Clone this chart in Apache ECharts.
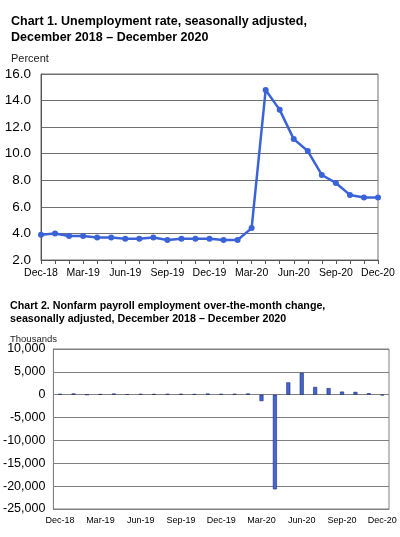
<!DOCTYPE html>
<html>
<head>
<meta charset="utf-8">
<script src="https://cdn.jsdelivr.net/npm/echarts@6/dist/echarts.min.js"></script>
<style>
html,body{margin:0;padding:0;background:#fff;}
#c{width:400px;height:537px;}
</style>
</head>
<body>
<div id="c"></div>
<script>
var months = ['Dec-18','Jan-19','Feb-19','Mar-19','Apr-19','May-19','Jun-19','Jul-19','Aug-19','Sep-19','Oct-19','Nov-19','Dec-19','Jan-20','Feb-20','Mar-20','Apr-20','May-20','Jun-20','Jul-20','Aug-20','Sep-20','Oct-20','Nov-20','Dec-20'];
var unemploymentRate = [3.9,4.0,3.8,3.8,3.7,3.7,3.6,3.6,3.7,3.5,3.6,3.6,3.6,3.5,3.5,4.4,14.8,13.3,11.1,10.2,8.4,7.8,6.9,6.7,6.7];
var payrollChange = [200,270,10,150,250,90,180,160,200,200,150,250,180,210,260,-1400,-20700,2700,4800,1700,1450,680,620,330,-140];
var rateTicks = {min:2, max:16, interval:2};
var payrollTicks = {min:-25000, max:10000, interval:5000};

var FONT = '"Liberation Sans", Arial, sans-serif';
var chart = echarts.init(document.getElementById('c'), null, {renderer:'canvas'});
function fmtNum(v){ return v.toLocaleString('en-US'); }
chart.setOption({
  animation:false,
  backgroundColor:'#fff',
  textStyle:{fontFamily:FONT},
  title:[
    {text:'Chart 1. Unemployment rate, seasonally adjusted,\nDecember 2018 \u2013 December 2020', left:6, top:9,
     textStyle:{fontFamily:FONT, fontSize:12.5, fontWeight:'bold', color:'#000', lineHeight:16}},
    {text:'Percent', left:6, top:48, textStyle:{fontFamily:FONT, fontSize:11, fontWeight:'normal', color:'#222'}},
    {text:'Chart 2. Nonfarm payroll employment over-the-month change,\nseasonally adjusted, December 2018 \u2013 December 2020', left:5, top:295,
     textStyle:{fontFamily:FONT, fontSize:10.7, fontWeight:'bold', color:'#000', lineHeight:13}},
    {text:'Thousands', left:5, top:329, textStyle:{fontFamily:FONT, fontSize:9.5, fontWeight:'normal', color:'#222'}}
  ],
  grid:[
    {left:41, right:22, top:74, bottom:277, show:true, borderColor:'#707070', borderWidth:1, backgroundColor:'#fff'},
    {left:51, right:11, top:349, bottom:28, show:true, borderColor:'#808080', borderWidth:1, backgroundColor:'#fff'}
  ],
  xAxis:[
    {type:'category', gridIndex:0, data:months, boundaryGap:false,
     axisLine:{lineStyle:{color:'#555', width:1}},
     axisTick:{show:true, interval:0, length:4, lineStyle:{color:'#555'}},
     axisLabel:{interval:2, color:'#000', fontSize:10.5, fontFamily:FONT, margin:8},
     splitLine:{show:false}},
    {type:'category', gridIndex:1, data:months, boundaryGap:true,
     axisLine:{onZero:false, lineStyle:{color:'#808080', width:1}},
     axisTick:{show:false},
     axisLabel:{interval:2, color:'#000', fontSize:9, fontFamily:FONT, margin:7},
     splitLine:{show:false}}
  ],
  yAxis:[
    {type:'value', gridIndex:0, min:rateTicks.min, max:rateTicks.max, interval:rateTicks.interval,
     axisLine:{show:true, lineStyle:{color:'#555'}}, axisTick:{show:false},
     axisLabel:{color:'#000', fontSize:13.5, fontFamily:FONT, margin:10, formatter:function(v){return v.toFixed(1);}},
     splitLine:{show:true, lineStyle:{color:'#707070', width:1}}},
    {type:'value', gridIndex:1, min:payrollTicks.min, max:payrollTicks.max, interval:payrollTicks.interval,
     axisLine:{show:true, lineStyle:{color:'#808080'}}, axisTick:{show:false},
     axisLabel:{color:'#000', fontSize:12.5, fontFamily:FONT, margin:8, formatter:fmtNum},
     splitLine:{show:true, lineStyle:{color:'#808080', width:1}}}
  ],
  series:[
    {type:'line', xAxisIndex:0, yAxisIndex:0, data:unemploymentRate,
     symbol:'circle', symbolSize:6, showSymbol:true,
     lineStyle:{color:'#3B63D8', width:2.5},
     itemStyle:{color:'#3B63D8'}},
    {type:'bar', xAxisIndex:1, yAxisIndex:1, data:payrollChange, barWidth:4,
     itemStyle:{color:'#4466D0', borderColor:'#1A2A70', borderWidth:0.6}}
  ]
});
</script>
</body>
</html>
